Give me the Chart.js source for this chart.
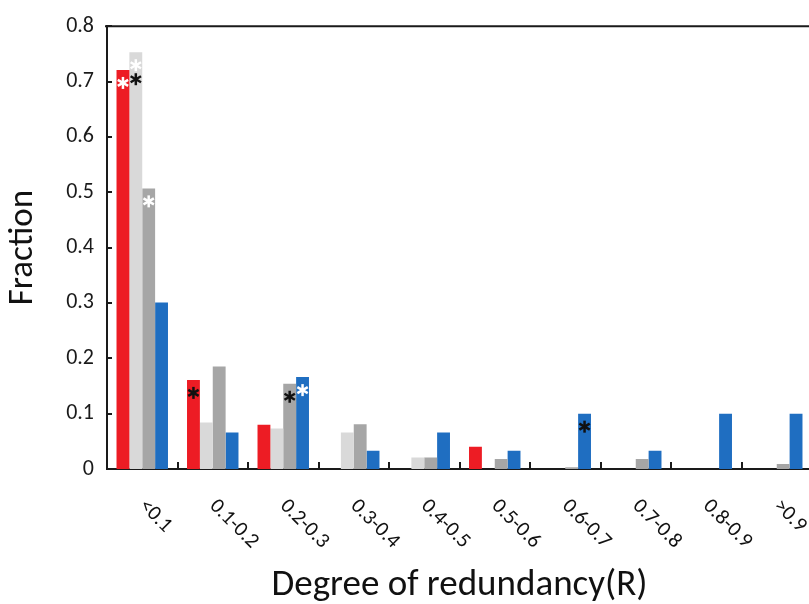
<!DOCTYPE html>
<html>
<head>
<meta charset="utf-8">
<title>Degree of redundancy</title>
<script src="https://cdn.jsdelivr.net/npm/chart.js@4.4.0/dist/chart.umd.min.js"></script>
<style>
  html, body { margin: 0; padding: 0; background: #fff; overflow: hidden; }
  #wrap { width: 809px; height: 604px; overflow: hidden; }
</style>
</head>
<body>
<div id="wrap"><canvas id="chart" width="812" height="604"></canvas></div>
<script>
// Data
const categories = ['<0.1', '0.1-0.2', '0.2-0.3', '0.3-0.4', '0.4-0.5', '0.5-0.6', '0.6-0.7', '0.7-0.8', '0.8-0.9', '>0.9'];
const redValues = [0.721, 0.161, 0.080, 0, 0, 0.040, 0, 0, 0, 0];
const lightGrayValues = [0.753, 0.084, 0.073, 0.066, 0.021, 0, 0, 0, 0, 0];
const darkGrayValues = [0.507, 0.185, 0.154, 0.081, 0.021, 0.018, 0.003, 0.018, 0, 0.009];
const blueValues = [0.301, 0.066, 0.166, 0.033, 0.066, 0.033, 0.100, 0.033, 0.100, 0.100];
const yTickValues = [0, 0.1, 0.2, 0.3, 0.4, 0.5, 0.6, 0.7, 0.8];
const xTitle = 'Degree of redundancy(R)';
const yTitle = 'Fraction';

// Significance marks: [series, category, colour, row below the bar top]
const starMarks = [
  [0, 0, '#ffffff', 0],
  [1, 0, '#ffffff', 0],
  [1, 0, '#111111', 1],
  [2, 0, '#ffffff', 0],
  [0, 1, '#111111', 0],
  [2, 2, '#111111', 0],
  [3, 2, '#ffffff', 0],
  [3, 6, '#111111', 0]
];

const FONT = 'Carlito, Lato, sans-serif';
const AXIS_COLOR = '#1a1a1a';

function drawStar(ctx, x, y, r, color) {
  ctx.save();
  ctx.strokeStyle = color;
  ctx.lineWidth = 2.5;
  for (let k = 0; k < 3; k++) {
    const a = Math.PI / 2 + k * Math.PI / 3;
    ctx.beginPath();
    ctx.moveTo(x - r * Math.cos(a), y - r * Math.sin(a));
    ctx.lineTo(x + r * Math.cos(a), y + r * Math.sin(a));
    ctx.stroke();
  }
  ctx.restore();
}

// Frame, inner ticks, rotated labels and asterisks
const decorPlugin = {
  id: 'decor',
  afterDraw(chart) {
    const ctx = chart.ctx;
    const area = chart.chartArea;
    const xScale = chart.scales.x;
    const yScale = chart.scales.y;

    ctx.save();
    ctx.strokeStyle = AXIS_COLOR;
    ctx.lineWidth = 2;

    // top frame line
    ctx.beginPath();
    ctx.moveTo(area.left - 2, area.top);
    ctx.lineTo(area.right, area.top);
    ctx.stroke();

    // inward y ticks
    yTickValues.forEach((v) => {
      const y = Math.round(yScale.getPixelForValue(v));
      ctx.beginPath();
      ctx.moveTo(area.left, y);
      ctx.lineTo(area.left + 5, y);
      ctx.stroke();
    });

    // x ticks between groups
    for (let i = 1; i < categories.length; i++) {
      const x = Math.round((xScale.getPixelForValue(i - 1) + xScale.getPixelForValue(i)) / 2);
      ctx.beginPath();
      ctx.moveTo(x, area.bottom);
      ctx.lineTo(x, area.bottom - 7);
      ctx.stroke();
    }

    // rotated category labels
    ctx.fillStyle = '#111';
    ctx.font = '21px ' + FONT;
    ctx.textAlign = 'left';
    ctx.textBaseline = 'middle';
    categories.forEach((label, i) => {
      const cx = xScale.getPixelForValue(i);
      ctx.save();
      ctx.translate(cx, area.bottom + 34);
      ctx.rotate(Math.PI / 4);
      ctx.fillText(label, 0, 0);
      ctx.restore();
    });
    ctx.restore();

    // asterisks
    starMarks.forEach(([series, index, color, row]) => {
      const bar = chart.getDatasetMeta(series).data[index];
      drawStar(ctx, bar.x, bar.y + 13 + row * 14, 6, color);
    });
  }
};

const ctx = document.getElementById('chart').getContext('2d');
const chart = new Chart(ctx, {
  type: 'bar',
  data: {
    labels: categories,
    datasets: [
      { label: 'red', data: redValues, backgroundColor: '#ED1C24' },
      { label: 'light gray', data: lightGrayValues, backgroundColor: '#D9D9D9' },
      { label: 'dark gray', data: darkGrayValues, backgroundColor: '#A6A6A6' },
      { label: 'blue', data: blueValues, backgroundColor: '#1F6EC1' }
    ]
  },
  options: {
    responsive: false,
    animation: false,
    devicePixelRatio: 1,
    layout: { padding: { top: 18, right: 0, bottom: 0, left: 0 } },
    datasets: {
      bar: { categoryPercentage: 0.73, barPercentage: 1, borderWidth: 0 }
    },
    plugins: {
      legend: { display: false },
      tooltip: { enabled: false }
    },
    scales: {
      x: {
        grid: { display: false, drawTicks: false },
        border: { color: AXIS_COLOR, width: 2 },
        ticks: { display: false },
        title: {
          display: true,
          text: xTitle,
          color: '#111',
          font: { family: FONT, size: 37, lineHeight: 1 },
          padding: { top: 0, bottom: 0 }
        },
        afterFit: (scale) => { scale.height = 135; }
      },
      y: {
        min: 0,
        max: 0.8,
        afterBuildTicks: (scale) => {
          scale.ticks = yTickValues.map((v) => ({ value: v }));
        },
        grid: { display: false, drawTicks: false },
        border: { color: AXIS_COLOR, width: 2 },
        ticks: {
          padding: 13,
          color: '#1a1a1a',
          font: { family: FONT, size: 22 },
          callback: (v) => (v === 0 ? '0' : v.toFixed(1))
        },
        title: {
          display: true,
          text: yTitle,
          color: '#111',
          font: { family: FONT, size: 35, lineHeight: 1 },
          padding: { top: 6, bottom: 0 }
        },
        afterFit: (scale) => { scale.width = 107; }
      }
    }
  },
  plugins: [decorPlugin]
});
</script>
</body>
</html>
